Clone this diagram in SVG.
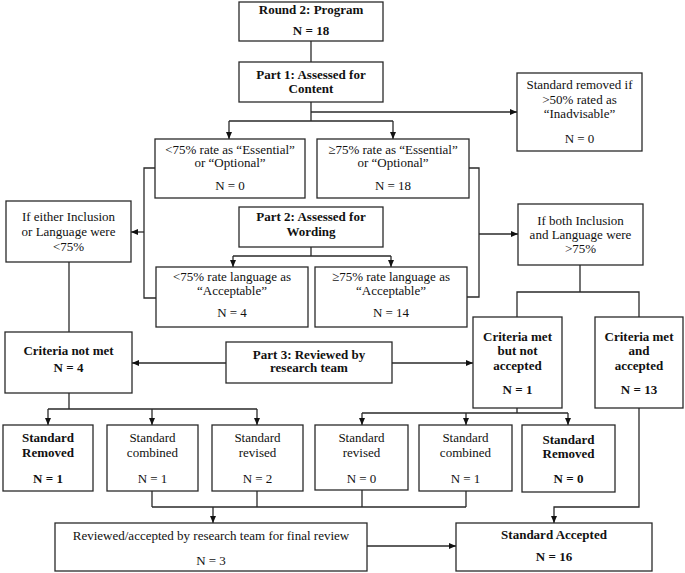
<svg xmlns="http://www.w3.org/2000/svg" width="685" height="573" viewBox="0 0 685 573" font-family="'Liberation Serif', 'DejaVu Serif', serif">
<style>
rect{fill:#fff;stroke:#2a2a2a;stroke-width:1.3}
text{font-family:'Liberation Serif','DejaVu Serif',serif;font-size:13px;fill:#111;text-anchor:middle}
.b{font-weight:bold}
#connectors path{fill:none;stroke:#2a2a2a;stroke-width:1.3}
.a{marker-end:url(#ah)}
</style>
<defs>
<marker id="ah" markerUnits="userSpaceOnUse" markerWidth="8" markerHeight="8" refX="7" refY="3" orient="auto"><path d="M0,0 L7,3 L0,6 z" fill="#111"/></marker>
</defs>
<rect x="0" y="0" width="685" height="573" style="stroke:none"/>
<g id="connectors">
<path d="M311,41 V62"/>
<path d="M311,102 V121 M229,121 H393"/>
<path class="a" d="M229,121 V139"/>
<path class="a" d="M393,121 V139"/>
<path class="a" d="M311,112 H517"/>
<path d="M155,168 H144 V298 H156"/>
<path class="a" d="M144,232 H131"/>
<path d="M469,168 H479 V297 H467"/>
<path class="a" d="M479,234 H518"/>
<path d="M311,247 V256 M233,256 H391"/>
<path class="a" d="M233,256 V267"/>
<path class="a" d="M391,256 V267"/>
<path d="M69,262 V332"/>
<path d="M580,265 V292 M517,317 V292 H639 V317"/>
<path class="a" d="M226,363 H132"/>
<path class="a" d="M392,363 H473"/>
<path d="M69,393 V409 M48,409 H257"/>
<path class="a" d="M48,409 V425"/>
<path class="a" d="M152,409 V425"/>
<path class="a" d="M257,409 V425"/>
<path d="M517,408 V413 M362,413 H568"/>
<path class="a" d="M362,413 V425"/>
<path class="a" d="M466,413 V425"/>
<path class="a" d="M568,413 V425"/>
<path d="M152,491 V507 M257,491 V507 M362,490 V507 M466,491 V507 M152,507 H466"/>
<path class="a" d="M213,507 V523"/>
<path class="a" d="M639,408 V507 H554 V523"/>
<path class="a" d="M367,546 H456"/>
</g>
<g id="round2"><rect x="239" y="2" width="144" height="39"/><text class="b" x="311" y="14">Round 2: Program</text><text class="b" x="311" y="35">N = 18</text></g>
<g id="part1"><rect x="239" y="62" width="144" height="40"/><text class="b" x="311" y="79">Part 1: Assessed for</text><text class="b" x="311" y="93">Content</text></g>
<g id="removed-content"><rect x="517" y="73" width="125" height="78"/><text x="579.5" y="89">Standard removed if</text><text x="579.5" y="103.5">&gt;50% rated as</text><text x="579.5" y="117.5">“Inadvisable”</text><text x="579.5" y="142.5">N = 0</text></g>
<g id="content-low"><rect x="155" y="139" width="150" height="59"/><text x="230" y="153.5">&lt;75% rate as “Essential”</text><text x="230" y="167">or “Optional”</text><text x="230" y="190">N = 0</text></g>
<g id="content-high"><rect x="317" y="139" width="152" height="59"/><text x="393" y="153.5">≥75% rate as “Essential”</text><text x="393" y="167">or “Optional”</text><text x="393" y="190">N = 18</text></g>
<g id="part2"><rect x="239" y="207" width="144" height="40"/><text class="b" x="311" y="221">Part 2: Assessed for</text><text class="b" x="311" y="236">Wording</text></g>
<g id="wording-low"><rect x="156" y="267" width="152" height="60"/><text x="232" y="281">&lt;75% rate language as</text><text x="232" y="295">“Acceptable”</text><text x="232" y="317">N = 4</text></g>
<g id="wording-high"><rect x="315" y="267" width="152" height="60"/><text x="391" y="281">≥75% rate language as</text><text x="391" y="295">“Acceptable”</text><text x="391" y="317">N = 14</text></g>
<g id="either"><rect x="6" y="201" width="125" height="61"/><text x="68.5" y="221">If either Inclusion</text><text x="68.5" y="235.5">or Language were</text><text x="68.5" y="250.5">&lt;75%</text></g>
<g id="both"><rect x="518" y="204" width="125" height="61"/><text x="580.5" y="224.5">If both Inclusion</text><text x="580.5" y="239">and Language were</text><text x="580.5" y="253">&gt;75%</text></g>
<g id="not-met"><rect x="5" y="332" width="127" height="61"/><text class="b" x="68.5" y="354.5">Criteria not met</text><text class="b" x="68.5" y="372">N = 4</text></g>
<g id="part3"><rect x="226" y="342" width="166" height="41"/><text class="b" x="309" y="358.5">Part 3: Reviewed by</text><text class="b" x="309" y="372">research team</text></g>
<g id="met-not-accepted"><rect x="473" y="317" width="89" height="91"/><text class="b" x="517.5" y="340.5">Criteria met</text><text class="b" x="517.5" y="354.5">but not</text><text class="b" x="517.5" y="369.5">accepted</text><text class="b" x="517.5" y="394">N = 1</text></g>
<g id="met-accepted"><rect x="595" y="317" width="88" height="91"/><text class="b" x="639" y="340.5">Criteria met</text><text class="b" x="639" y="354.5">and</text><text class="b" x="639" y="369.5">accepted</text><text class="b" x="639" y="394">N = 13</text></g>
<g id="removed1"><rect x="3" y="425" width="90" height="66"/><text class="b" x="48" y="442">Standard</text><text class="b" x="48" y="457">Removed</text><text class="b" x="48" y="483">N = 1</text></g>
<g id="combined1"><rect x="107" y="425" width="91" height="66"/><text x="152.5" y="442">Standard</text><text x="152.5" y="457">combined</text><text x="152.5" y="483">N = 1</text></g>
<g id="revised2"><rect x="212" y="425" width="91" height="66"/><text x="257.5" y="442">Standard</text><text x="257.5" y="457">revised</text><text x="257.5" y="483">N = 2</text></g>
<g id="revised0"><rect x="315" y="425" width="93" height="65"/><text x="361.5" y="442">Standard</text><text x="361.5" y="457">revised</text><text x="361.5" y="483">N = 0</text></g>
<g id="combined1b"><rect x="419" y="425" width="93" height="66"/><text x="465.5" y="442">Standard</text><text x="465.5" y="457">combined</text><text x="465.5" y="483">N = 1</text></g>
<g id="removed0"><rect x="522" y="425" width="93" height="67"/><text class="b" x="568.5" y="443.5">Standard</text><text class="b" x="568.5" y="457.5">Removed</text><text class="b" x="568.5" y="483">N = 0</text></g>
<g id="final-review"><rect x="55" y="523" width="312" height="48"/><text x="211" y="539.5">Reviewed/accepted by research team for final review</text><text x="211" y="564.5">N = 3</text></g>
<g id="accepted"><rect x="456" y="523" width="196" height="48"/><text class="b" x="554" y="538.5">Standard Accepted</text><text class="b" x="554" y="561">N = 16</text></g>
</svg>
